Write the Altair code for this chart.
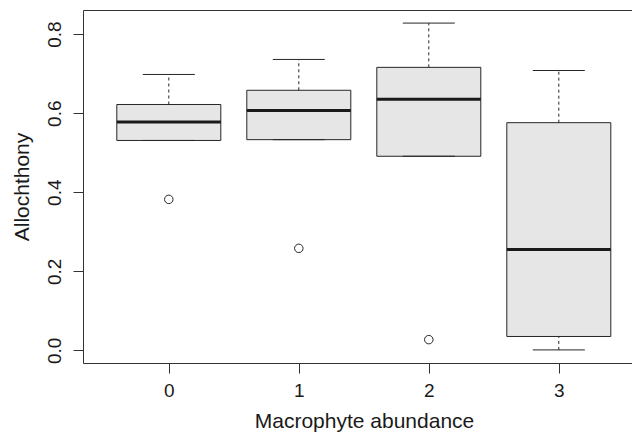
import altair as alt
import pandas as pd

groups = ["0", "1", "2", "3"]
positions = [1, 2, 3, 4]
lower_whisker = [0.531, 0.533, 0.491, 0.001]
q1 = [0.531, 0.533, 0.491, 0.035]
median = [0.578, 0.607, 0.635, 0.255]
q3 = [0.622, 0.658, 0.716, 0.576]
upper_whisker = [0.698, 0.736, 0.828, 0.708]
outlier_pos = [1, 2, 3]
outlier_value = [0.382, 0.258, 0.027]

box_half = 0.4
cap_half = 0.2

df = pd.DataFrame({
    "group": groups,
    "pos": positions,
    "lo": lower_whisker,
    "q1": q1,
    "med": median,
    "q3": q3,
    "hi": upper_whisker,
})
df["left"] = df["pos"] - box_half
df["right"] = df["pos"] + box_half
df["capl"] = df["pos"] - cap_half
df["capr"] = df["pos"] + cap_half

out = pd.DataFrame({"pos": outlier_pos, "val": outlier_value})

xscale = alt.Scale(domain=[0.34, 4.563], nice=False, zero=False)
yscale = alt.Scale(domain=[-0.0321, 0.8611], nice=False, zero=False)
YT = "Allochthony"
LINE = "#262626"

base = alt.Chart(df)

boxes = base.mark_rect(fill="#e6e6e6", stroke=LINE, strokeWidth=1).encode(
    x=alt.X("left:Q", scale=xscale, axis=alt.Axis(
        values=[1, 2, 3, 4], labelExpr="format(datum.value - 1, 'd')",
        title="Macrophyte abundance", tickSize=10, grid=False,
        labelPadding=8, titlePadding=10, titleX=281)),
    x2="right:Q",
    y=alt.Y("q1:Q", scale=yscale, title=YT, axis=alt.Axis(
        values=[0, 0.2, 0.4, 0.6, 0.8], format=".1f", tickSize=10, grid=False,
        labelAngle=270, labelAlign="center", labelBaseline="bottom",
        labelPadding=9, titlePadding=13)),
    y2="q3:Q",
)

whisk_up = base.mark_rule(color=LINE, strokeWidth=1, strokeDash=[3, 3]).encode(
    x=alt.X("pos:Q", scale=xscale, axis=None),
    y=alt.Y("q3:Q", scale=yscale, title=YT),
    y2="hi:Q",
)
whisk_lo = base.mark_rule(color=LINE, strokeWidth=1, strokeDash=[3, 3]).encode(
    x=alt.X("pos:Q", scale=xscale, axis=None),
    y=alt.Y("lo:Q", scale=yscale, title=YT),
    y2="q1:Q",
)
cap_up = base.mark_rule(color=LINE, strokeWidth=1).encode(
    x=alt.X("capl:Q", scale=xscale, axis=alt.Axis(
        orient="top", labels=False, ticks=False, title=None, grid=False)),
    x2="capr:Q",
    y=alt.Y("hi:Q", scale=yscale, title=YT),
)
cap_lo = base.mark_rule(color=LINE, strokeWidth=1).encode(
    x=alt.X("capl:Q", scale=xscale, axis=None),
    x2="capr:Q",
    y=alt.Y("lo:Q", scale=yscale, title=YT),
)
medians = base.mark_rule(color="#1a1a1a", strokeWidth=3).encode(
    x=alt.X("left:Q", scale=xscale, axis=None),
    x2="right:Q",
    y=alt.Y("med:Q", scale=yscale, title=YT),
)
points = alt.Chart(out).mark_point(shape="circle", filled=False, color=LINE,
                                   size=72, strokeWidth=1, opacity=1).encode(
    x=alt.X("pos:Q", scale=xscale, axis=None),
    y=alt.Y("val:Q", scale=yscale, title=YT),
)

chart = alt.layer(boxes, whisk_up, whisk_lo, cap_up, cap_lo, medians, points).resolve_axis(
    x="independent"
).properties(
    width=549, height=353,
    autosize=alt.AutoSizeParams(type="none"),
    padding={"left": 75, "top": 2, "right": 0, "bottom": 70},
).configure_view(stroke="transparent", strokeWidth=0).configure_axis(
    labelFont="Liberation Sans", titleFont="Liberation Sans",
    labelFontSize=19, titleFontSize=21, titleFontWeight="normal",
    labelColor="#1a1a1a", titleColor="#1a1a1a",
    domainColor="#333333", tickColor="#333333", domainWidth=1, tickWidth=1,
)

chart.save("out.html", embed_options={"renderer": "svg", "actions": False})
